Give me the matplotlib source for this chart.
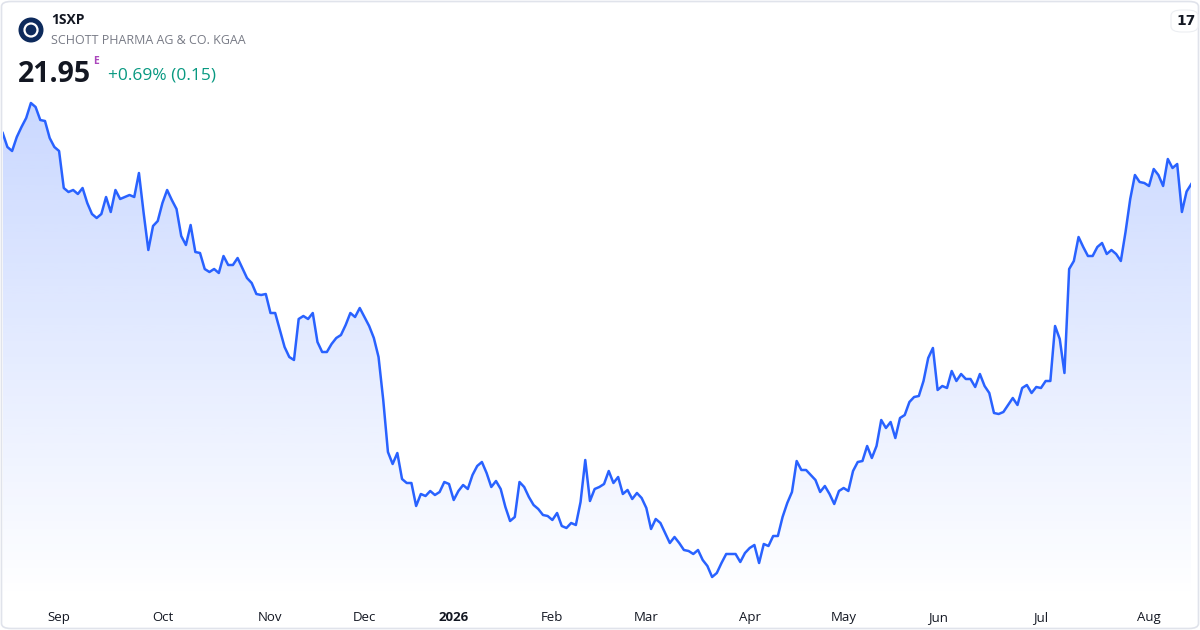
import numpy as np
import pandas as pd
import matplotlib
matplotlib.use("Agg")
import matplotlib.pyplot as plt
from matplotlib.patches import FancyBboxPatch, Ellipse, Polygon

TICKER = "1SXP"
NAME = "SCHOTT PHARMA AG & CO. KGAA"
LAST = "21.95"
CHANGE = "+0.69% (0.15)"

START, END = "2025-08-14", "2026-08-14"
HOLIDAYS = ["2025-12-24", "2025-12-25", "2025-12-26", "2025-12-31",
            "2026-01-01", "2026-04-03", "2026-04-06", "2026-05-01"]

# daily closes
PRICES = [
    22.97, 22.69, 22.61, 22.89, 23.09, 23.27, 23.57, 23.49, 23.23, 23.21,
    22.87, 22.69, 22.61, 21.87, 21.79, 21.83, 21.75, 21.87, 21.57, 21.35,
    21.27, 21.35, 21.69, 21.39, 21.83, 21.65, 21.69, 21.73, 21.69, 22.17,
    21.37, 20.63, 21.11, 21.21, 21.57, 21.83, 21.63, 21.45, 20.91, 20.73,
    21.13, 20.59, 20.57, 20.25, 20.19, 20.25, 20.17, 20.51, 20.33, 20.33,
    20.47, 20.27, 20.07, 19.97, 19.75, 19.73, 19.75, 19.37, 19.37, 19.03,
    18.69, 18.49, 18.43, 19.25, 19.31, 19.25, 19.37, 18.79, 18.59, 18.59,
    18.75, 18.87, 18.93, 19.13, 19.37, 19.29, 19.47, 19.29, 19.11, 18.87,
    18.49, 17.63,
    16.59, 16.35, 16.57, 16.05, 15.97, 15.97, 15.51, 15.75, 15.71, 15.81,
    15.73, 15.79, 15.99, 15.95, 15.63, 15.81, 15.93, 15.85, 16.13, 16.31,
    16.39, 16.17, 15.89, 16.01, 15.85, 15.49, 15.21, 15.29, 15.99, 15.89,
    15.69, 15.53, 15.45, 15.33, 15.31, 15.23, 15.37, 15.11, 15.07, 15.17,
    15.13, 15.59, 16.43, 15.61, 15.85, 15.89, 15.95, 16.21, 15.97, 16.09,
    15.75, 15.83, 15.65, 15.77, 15.67, 15.47, 15.05, 15.25, 15.17, 14.97,
    14.77, 14.89, 14.77, 14.63, 14.61, 14.55, 14.63, 14.43, 14.31, 14.09,
    14.17, 14.37, 14.55, 14.55, 14.55, 14.39, 14.57, 14.67, 14.73, 14.37,
    14.75, 14.71, 14.91, 14.91,
    15.29, 15.57, 15.79, 16.41, 16.23, 16.23, 16.13, 16.03, 15.79, 15.91,
    15.75, 15.55, 15.81, 15.87, 15.81, 16.21, 16.39, 16.41, 16.71, 16.47,
    16.71, 17.23, 17.07, 17.19, 16.87, 17.27, 17.33, 17.59, 17.69, 17.71,
    18.01, 18.47, 18.67, 17.83, 17.91, 17.87, 18.21, 18.01, 18.15, 18.05,
    18.05, 17.89, 18.15, 17.91, 17.77, 17.37, 17.35, 17.39, 17.53, 17.67,
    17.53, 17.87, 17.93, 17.77, 17.89, 17.87, 18.01, 18.01, 19.11, 18.85,
    18.17, 20.25, 20.41, 20.89, 20.69, 20.51, 20.51, 20.69, 20.77, 20.55,
    20.63, 20.55, 20.41, 20.99, 21.65, 22.13, 21.99, 21.97, 21.91, 22.25,
    22.13, 21.91, 22.45, 22.27, 22.35, 21.39, 21.80, 21.95,
]

LINE = "#2962ff"
W, H = 1200, 630

dates = pd.bdate_range(START, END, freq="C", holidays=HOLIDAYS)
y = np.array(PRICES)
x = np.arange(len(y))

fig = plt.figure(figsize=(W / 100, H / 100), dpi=100)
fig.patch.set_facecolor("white")
fig.patches.append(FancyBboxPatch((1.5 / W, 1.5 / H), 1 - 3 / W, 1 - 3 / H,
                                  boxstyle="round,pad=0,rounding_size=0.008",
                                  transform=fig.transFigure, fc="white",
                                  ec="#e0e3eb", lw=1.2, zorder=-1))

ylo, yhi = 13.63, 25.63
ax = fig.add_axes([2.7 / W, 30 / H, (1191.3 - 2.7) / W, 600 / H])
ax.set_xlim(0, len(y) - 1)
ax.set_ylim(ylo, yhi)
ax.patch.set_alpha(0)
for s in ax.spines.values():
    s.set_visible(False)
ax.set_yticks([])

# gradient fill under the line
grad = np.linspace(0.30, 0.0, 256)[:, None]
rgba = np.zeros((256, 1, 4))
rgba[..., :3] = matplotlib.colors.to_rgb(LINE)
rgba[..., 3] = grad
im = ax.imshow(rgba, extent=(0, len(y) - 1, ylo, yhi), aspect="auto",
               origin="upper", zorder=1, interpolation="bilinear")
poly = Polygon(np.column_stack([np.r_[x, x[-1], 0], np.r_[y, ylo, ylo]]),
               closed=True, fc="none", ec="none", transform=ax.transData)
ax.add_patch(poly)
im.set_clip_path(poly)
ax.plot(x, y, color=LINE, lw=1.8, zorder=3, solid_joinstyle="round")

# month ticks at the first trading day of each month
months = pd.Series(dates.to_period("M"))
first = months.drop_duplicates().index[1:]
labels = []
for i in first:
    d = dates[i]
    labels.append(str(d.year) if d.month == 1 else d.strftime("%b"))
ax.set_xticks(first)
ax.set_xticklabels(labels, fontsize=9.5, color="#131722", family="Open Sans")
ax.tick_params(axis="x", length=0, pad=8)
for t in ax.get_xticklabels():
    if t.get_text().isdigit():
        t.set_fontweight("bold")

# header logo
cx, cy = 31 / W, 1 - 30 / H
fig.patches.append(Ellipse((cx, cy), 25 / W, 25 / H, transform=fig.transFigure,
                           fc="#0d2a5c", ec="none"))
fig.patches.append(Ellipse((cx, cy), 13 / W, 13 / H, transform=fig.transFigure,
                           fc="none", ec="white", lw=1.6))
fig.text(51 / W, 1 - 20 / H, TICKER, fontsize=10, fontweight="bold",
         color="#131722", va="center", family="Open Sans")
fig.text(51 / W, 1 - 41 / H, NAME, fontsize=9, color="#787b86",
         va="center", family="Open Sans")
fig.text(18 / W, 1 - 74 / H, LAST, fontsize=20.5, fontweight="bold",
         color="#131722", va="center", family="Open Sans")
fig.text(93 / W, 1 - 61 / H, "E", fontsize=7.5, fontweight="bold",
         color="#ab47bc", va="center", family="Open Sans")
fig.text(108 / W, 1 - 75 / H, CHANGE, fontsize=12.5, color="#089981",
         va="center", family="Open Sans")

# TradingView badge
fig.patches.append(FancyBboxPatch((1171 / W, 1 - 32 / H), 27 / W, 22 / H,
                                  boxstyle="round,pad=0,rounding_size=0.009",
                                  transform=fig.transFigure, fc="white",
                                  ec="#eceef2", lw=0.8))
fig.text(1186 / W, 1 - 21 / H, "17", fontsize=10, fontweight="black",
         color="#131722", ha="center", va="center", family="DejaVu Sans")

fig.savefig("out.png", dpi=100, facecolor="white")
